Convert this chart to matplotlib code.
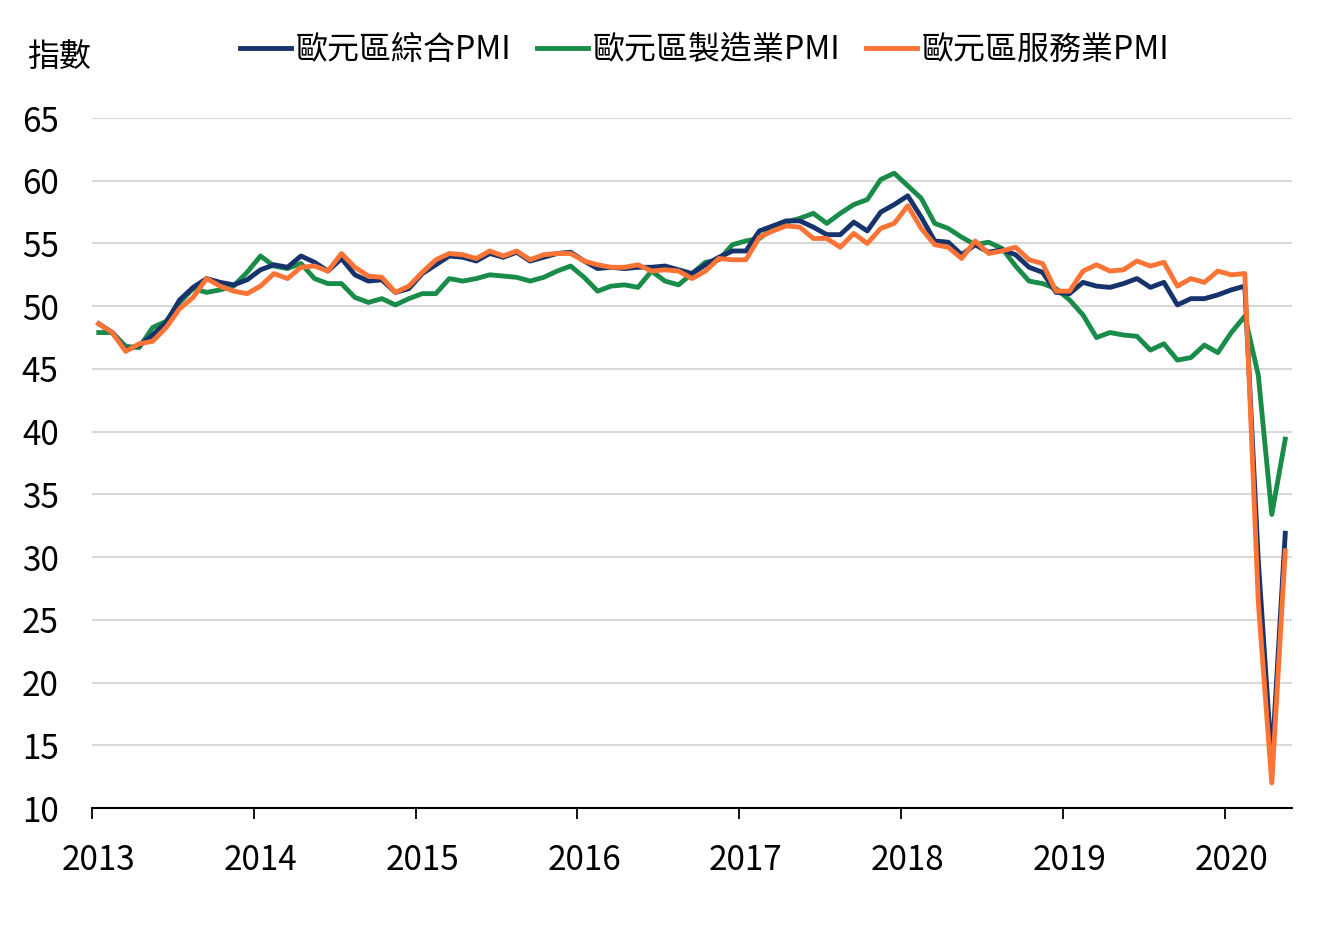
import matplotlib
matplotlib.use('Agg')
import matplotlib.pyplot as plt
import numpy as np

plt.rcParams['font.family'] = ['Noto Sans CJK TC', 'DejaVu Sans']

# 2013/01 ~ 2020/05 月資料
years = ['2013', '2014', '2015', '2016', '2017', '2018', '2019', '2020']

composite = [48.6, 47.9, 46.5, 46.9, 47.7, 48.7, 50.5, 51.5, 52.2, 51.9, 51.7, 52.1,
             52.9, 53.3, 53.1, 54.0, 53.5, 52.8, 53.8, 52.5, 52.0, 52.1, 51.1, 51.4,
             52.6, 53.3, 54.0, 53.9, 53.6, 54.2, 53.9, 54.3, 53.6, 53.9, 54.2, 54.3,
             53.6, 53.0, 53.1, 53.0, 53.1, 53.1, 53.2, 52.9, 52.6, 53.3, 53.9, 54.4,
             54.4, 56.0, 56.4, 56.8, 56.8, 56.3, 55.7, 55.7, 56.7, 56.0, 57.5, 58.1,
             58.8, 57.1, 55.2, 55.1, 54.1, 54.9, 54.3, 54.5, 54.1, 53.1, 52.7, 51.1,
             51.0, 51.9, 51.6, 51.5, 51.8, 52.2, 51.5, 51.9, 50.1, 50.6, 50.6, 50.9,
             51.3, 51.6, 29.7, 13.6, 31.9]

manufacturing = [47.9, 47.9, 46.8, 46.7, 48.3, 48.8, 50.3, 51.4, 51.1, 51.3, 51.6, 52.7,
                 54.0, 53.2, 53.0, 53.4, 52.2, 51.8, 51.8, 50.7, 50.3, 50.6, 50.1, 50.6,
                 51.0, 51.0, 52.2, 52.0, 52.2, 52.5, 52.4, 52.3, 52.0, 52.3, 52.8, 53.2,
                 52.3, 51.2, 51.6, 51.7, 51.5, 52.8, 52.0, 51.7, 52.6, 53.5, 53.7, 54.9,
                 55.2, 55.4, 56.2, 56.7, 57.0, 57.4, 56.6, 57.4, 58.1, 58.5, 60.1, 60.6,
                 59.6, 58.6, 56.6, 56.2, 55.5, 54.9, 55.1, 54.6, 53.2, 52.0, 51.8, 51.4,
                 50.5, 49.3, 47.5, 47.9, 47.7, 47.6, 46.5, 47.0, 45.7, 45.9, 46.9, 46.3,
                 47.9, 49.2, 44.5, 33.4, 39.4]

services = [48.6, 47.9, 46.4, 47.0, 47.2, 48.3, 49.8, 50.7, 52.2, 51.6, 51.2, 51.0,
            51.6, 52.6, 52.2, 53.1, 53.2, 52.8, 54.2, 53.1, 52.4, 52.3, 51.1, 51.6,
            52.7, 53.7, 54.2, 54.1, 53.8, 54.4, 54.0, 54.4, 53.7, 54.1, 54.2, 54.2,
            53.6, 53.3, 53.1, 53.1, 53.3, 52.8, 52.9, 52.8, 52.2, 52.8, 53.8, 53.7,
            53.7, 55.5, 56.0, 56.4, 56.3, 55.4, 55.4, 54.7, 55.8, 55.0, 56.2, 56.6,
            58.0, 56.2, 54.9, 54.7, 53.8, 55.2, 54.2, 54.4, 54.7, 53.7, 53.4, 51.2,
            51.2, 52.8, 53.3, 52.8, 52.9, 53.6, 53.2, 53.5, 51.6, 52.2, 51.9, 52.8,
            52.5, 52.6, 26.4, 12.0, 30.5]

labels = ['歐元區綜合PMI', '歐元區製造業PMI', '歐元區服務業PMI']
colors = ['#17336b', '#1a8c4a', '#fb7435']

x = np.arange(len(composite)) + 0.5

fig = plt.figure(figsize=(13.17, 9.31), dpi=100)
ax = fig.add_axes([92 / 1317, 1 - 808 / 931, 1200 / 1317, 690 / 931])

ax.plot(x, manufacturing, color=colors[1], lw=3.5, label=labels[1], zorder=3)
ax.plot(x, composite, color=colors[0], lw=3.5, label=labels[0], zorder=4)
ax.plot(x, services, color=colors[2], lw=3.5, label=labels[2], zorder=5)

ax.set_xlim(0, 89)
ax.set_ylim(10, 65)
ax.set_yticks(np.arange(10, 66, 5))
ax.yaxis.grid(True, color='#d9d9d9', lw=1.5)
ax.set_axisbelow(True)
ax.tick_params(axis='y', length=0, pad=24, labelsize=24)

ax.set_xticks(np.arange(0, 89, 12))
ax.set_xticklabels([])
ax.set_xticks(np.arange(len(years)) * 12 + 0.5, minor=True)
ax.set_xticklabels(years, minor=True)
ax.tick_params(axis='x', which='major', length=8, width=1.3, color='black')
ax.tick_params(axis='x', which='minor', length=0, pad=25, labelsize=24)

for s in ['top', 'right', 'left']:
    ax.spines[s].set_visible(False)
ax.spines['bottom'].set_linewidth(1.5)
ax.spines['bottom'].set_color('black')

h, l = ax.get_legend_handles_labels()
order = [1, 0, 2]
fig.legend([h[i] for i in order], [l[i] for i in order], loc='center',
           bbox_to_anchor=(705 / 1317, 1 - 50 / 931), ncol=3, frameon=False,
           fontsize=23, handlelength=1.6, handletextpad=0.15, columnspacing=0.8)

fig.text(27 / 1317, 1 - 57 / 931, '指數', fontsize=23, va='center', ha='left')

fig.savefig('out.png', dpi=100)
